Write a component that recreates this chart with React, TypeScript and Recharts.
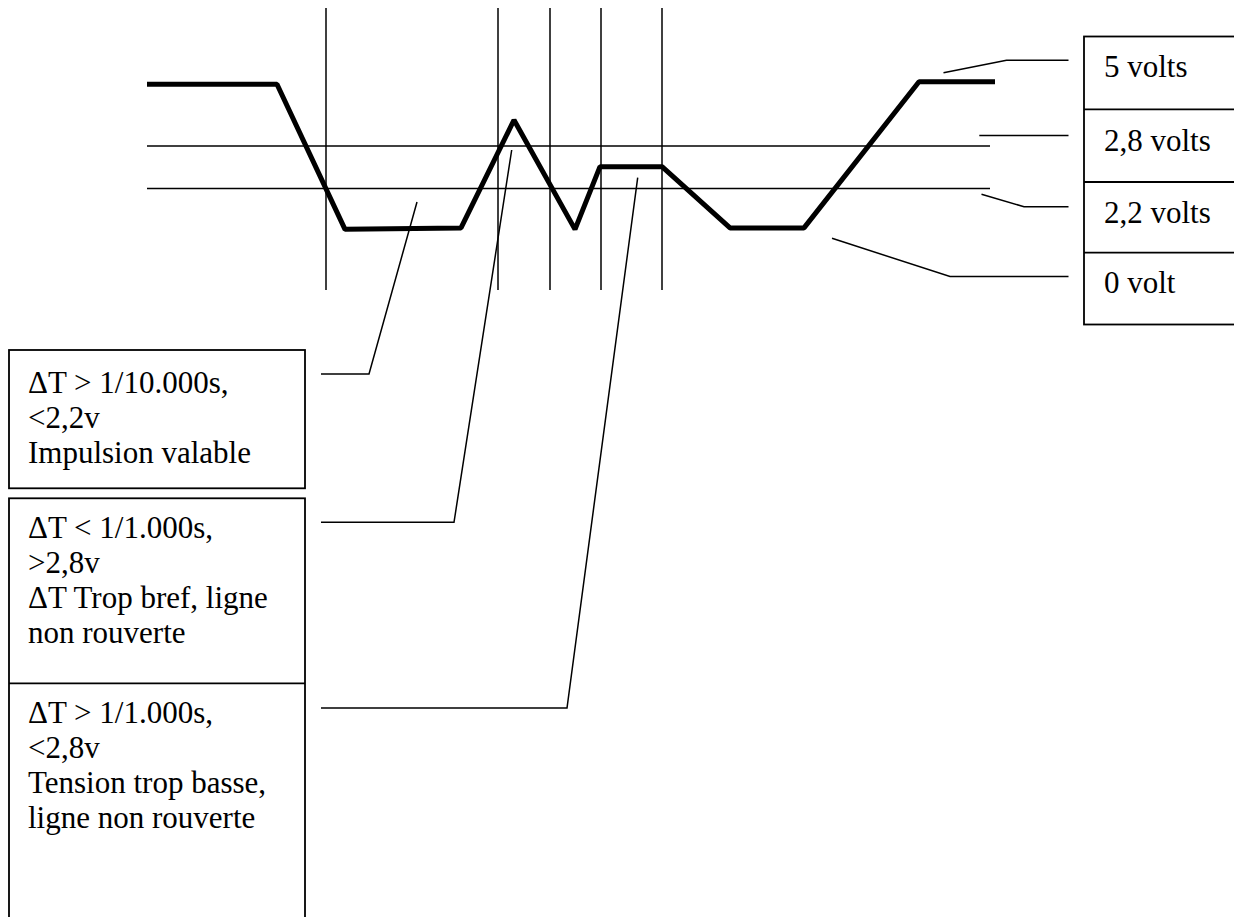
import React from "react";
import { LineChart, Line, XAxis, YAxis, ReferenceLine } from "recharts";

// waveform: time in arbitrary units, level in volts (as drawn, not to scale)
const TIME = [0, 130, 198, 314, 367, 428, 453, 515, 583, 657, 772, 848];
const LEVEL = [5, 5, 0, 0.05, 3.77, 0, 2.16, 2.16, 0.05, 0.05, 5.09, 5.09];

// drawn positions of the 2,8 V and 2,2 V threshold lines
const THRESHOLDS = [2.87, 1.41];
const THRESHOLD_END = 843;
// vertical time markers
const MARKERS = [179, 351, 403, 454, 515];

const LEVEL_LABELS = ["5 volts", "2,8 volts", "2,2 volts", "0 volt"];
const NOTES = [
  ["ΔT > 1/10.000s,", "<2,2v", "Impulsion valable"],
  ["ΔT < 1/1.000s,", ">2,8v", "ΔT Trop bref, ligne", "non rouverte"],
  ["ΔT > 1/1.000s,", "<2,8v", "Tension trop basse,", "ligne non rouverte"],
];

const W = 1234;
const H = 917;
const FONT = "'Liberation Serif', 'Times New Roman', serif";

const data = TIME.map((t, i) => ({ t, v: LEVEL[i] }));

// annotation layout (pixels)
const LABEL_BASE = [77.3, 150.7, 223.3, 293.3];
const LABEL_LEADERS = [
  "943.5,72.7 1006.5,60.3 1068.5,60.3",
  "979.3,135.5 1068.5,135.5",
  "981.5,194.3 1024,206.7 1068.5,206.7",
  "832,238.3 950,276.5 1068.5,276.5",
];
const NOTE_BASE = [393.3, 538.3, 723];
const NOTE_LEADERS = [
  "321,374 369,374 417,202",
  "321,522.3 454,522.3 511.7,150",
  "321,708 567,708 637.7,177.7",
];

function Annotations() {
  const line = { stroke: "#000", strokeWidth: 1.5, fill: "none" };
  const box = { stroke: "#000", strokeWidth: 1.8, fill: "none" };
  const txt = { fontFamily: FONT, fontSize: 31, fill: "#000" };
  return (
    <svg width={W} height={H} style={{ position: "absolute", left: 0, top: 0 }}>
      {/* right level boxes */}
      <rect x={1084} y={36.5} width={200} height={288} {...box} />
      {[109.3, 182, 252.7].map((y) => (
        <line key={y} x1={1084} x2={W} y1={y} y2={y} {...box} />
      ))}
      {LEVEL_LABELS.map((s, i) => (
        <text key={s} x={1104} y={LABEL_BASE[i]} {...txt}>{s}</text>
      ))}
      {LABEL_LEADERS.map((p) => (
        <polyline key={p} points={p} {...line} />
      ))}

      {/* left note boxes */}
      <rect x={9} y={350} width={296} height={138.3} {...box} />
      <rect x={9} y={498.3} width={296} height={440} {...box} />
      <line x1={9} x2={305} y1={683.3} y2={683.3} {...box} />
      {NOTES.map((lines, k) =>
        lines.map((s, i) => (
          <text key={`${k}-${i}`} x={28} y={NOTE_BASE[k] + i * 35} {...txt}>{s}</text>
        ))
      )}
      {NOTE_LEADERS.map((p) => (
        <polyline key={p} points={p} {...line} />
      ))}
    </svg>
  );
}

export default function App() {
  return (
    <div style={{ position: "absolute", left: 0, top: 0, width: W, height: H, background: "#fff" }}>
      <div style={{ position: "absolute", left: 0, top: 0 }}>
        <LineChart width={W} height={H} data={data} margin={{ top: 8, right: 239, bottom: 627, left: 147 }}>
          <XAxis type="number" dataKey="t" domain={[0, 848]} hide />
          <YAxis type="number" domain={[-2.09, 7.63]} hide allowDataOverflow />
          {THRESHOLDS.map((y) => (
            <ReferenceLine
              key={y}
              segment={[{ x: 0, y }, { x: THRESHOLD_END, y }]}
              stroke="#000"
              strokeWidth={1.5}
              ifOverflow="visible"
            />
          ))}
          {MARKERS.map((x) => (
            <ReferenceLine key={x} x={x} stroke="#000" strokeWidth={1.5} ifOverflow="visible" />
          ))}
          <Line
            type="linear"
            dataKey="v"
            stroke="#000"
            strokeWidth={5}
            strokeLinejoin="bevel"
            dot={false}
            activeDot={false}
            isAnimationActive={false}
          />
        </LineChart>
      </div>
      <Annotations />
    </div>
  );
}
